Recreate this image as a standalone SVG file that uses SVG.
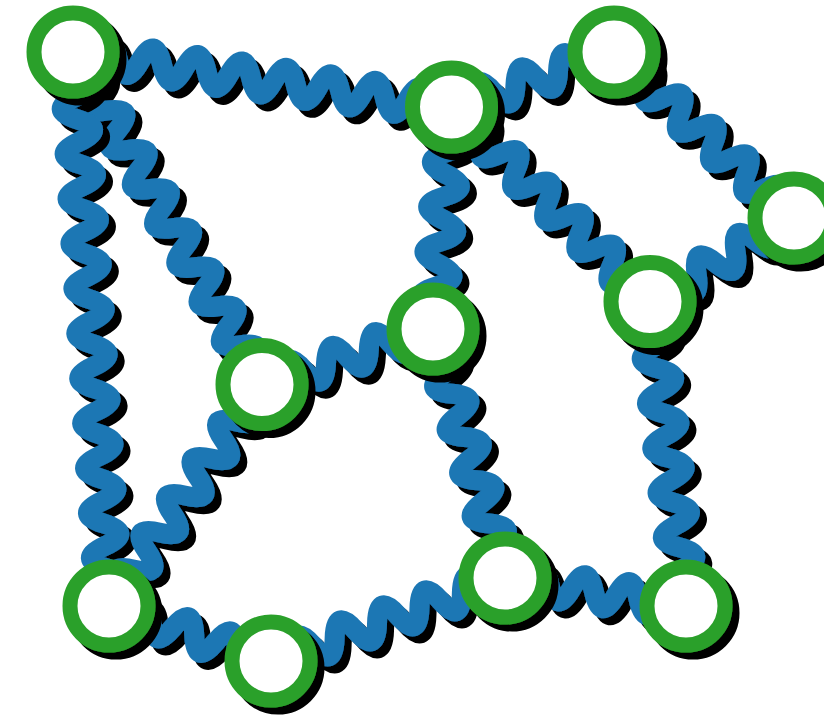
<svg xmlns="http://www.w3.org/2000/svg" width="824" height="718" viewBox="0 0 824 718">
<style>
.edge path{fill:none;stroke:#1f77b4;stroke-width:20;stroke-linejoin:round;stroke-linecap:round}
.node circle{fill:#fff;stroke:#2ca02c;stroke-width:15}
</style>
<defs>
<filter id="sh" filterUnits="userSpaceOnUse" x="-50" y="-50" width="924" height="818">
<feOffset in="SourceAlpha" dx="7" dy="7" result="o"/>
<feMerge><feMergeNode in="o"/><feMergeNode in="SourceGraphic"/></feMerge>
</filter>
</defs>
<rect width="824" height="718" fill="#fff"/>
<g id="edges">
<g id="e1-2" class="edge" filter="url(#sh)"><path transform="translate(73 52) rotate(8.27)" d="M0 0q11.25 30 22.5 0t22.5 0t22.5 0t22.5 0t22.5 0t22.5 0t22.5 0t22.5 0t22.5 0t22.5 0t22.5 0t22.5 0t22.5 0t22.5 0t22.5 0t22.5 0t22.5 0L382.5 0"/></g>
<g id="e1-7" class="edge" filter="url(#sh)"><path transform="translate(73 52) rotate(60.38)" d="M0 0q11.25 30 22.5 0t22.5 0t22.5 0t22.5 0t22.5 0t22.5 0t22.5 0t22.5 0t22.5 0t22.5 0t22.5 0t22.5 0t22.5 0t22.5 0t22.5 0t22.5 0t22.5 0L382.5 0"/></g>
<g id="e1-8" class="edge" filter="url(#sh)"><path transform="translate(73 52) rotate(86.28)" d="M0 0q11.25 30 22.5 0t22.5 0t22.5 0t22.5 0t22.5 0t22.5 0t22.5 0t22.5 0t22.5 0t22.5 0t22.5 0t22.5 0t22.5 0t22.5 0t22.5 0t22.5 0t22.5 0t22.5 0t22.5 0t22.5 0t22.5 0t22.5 0t22.5 0t22.5 0L555.2 0"/></g>
<g id="e2-3" class="edge" filter="url(#sh)"><path transform="translate(451.5 107) rotate(-18.7)" d="M0 0q11.25 30 22.5 0t22.5 0t22.5 0t22.5 0t22.5 0t22.5 0t22.5 0L171.6 0"/></g>
<g id="e2-6" class="edge" filter="url(#sh)"><path transform="translate(451.5 107) rotate(94.76)" d="M0 0q11.25 30 22.5 0t22.5 0t22.5 0t22.5 0t22.5 0t22.5 0t22.5 0t22.5 0t22.5 0L222.8 0"/></g>
<g id="e2-5" class="edge" filter="url(#sh)"><path transform="translate(451.5 107) rotate(44.42)" d="M0 0q11.25 30 22.5 0t22.5 0t22.5 0t22.5 0t22.5 0t22.5 0t22.5 0t22.5 0t22.5 0t22.5 0t22.5 0t22.5 0L277.9 0"/></g>
<g id="e3-4" class="edge" filter="url(#sh)"><path transform="translate(614 52) rotate(42.68)" d="M0 0q11.25 30 22.5 0t22.5 0t22.5 0t22.5 0t22.5 0t22.5 0t22.5 0t22.5 0t22.5 0t22.5 0L244.9 0"/></g>
<g id="e4-5" class="edge" filter="url(#sh)"><path transform="translate(794 218) rotate(149.89)" d="M0 0q11.25 30 22.5 0t22.5 0t22.5 0t22.5 0t22.5 0t22.5 0t22.5 0L166.5 0"/></g>
<g id="e5-11" class="edge" filter="url(#sh)"><path transform="translate(650 301.5) rotate(83.26)" d="M0 0q11.25 30 22.5 0t22.5 0t22.5 0t22.5 0t22.5 0t22.5 0t22.5 0t22.5 0t22.5 0t22.5 0t22.5 0t22.5 0t22.5 0L306.6 0"/></g>
<g id="e6-7" class="edge" filter="url(#sh)"><path transform="translate(433 329) rotate(162.02)" d="M0 0q11.25 30 22.5 0t22.5 0t22.5 0t22.5 0t22.5 0t22.5 0t22.5 0L179.8 0"/></g>
<g id="e6-10" class="edge" filter="url(#sh)"><path transform="translate(433 329) rotate(73.87)" d="M0 0q11.25 30 22.5 0t22.5 0t22.5 0t22.5 0t22.5 0t22.5 0t22.5 0t22.5 0t22.5 0t22.5 0t22.5 0L259.2 0"/></g>
<g id="e7-8" class="edge" filter="url(#sh)"><path transform="translate(262 384.5) rotate(124.63)" d="M0 0q11.25 30 22.5 0t22.5 0t22.5 0t22.5 0t22.5 0t22.5 0t22.5 0t22.5 0t22.5 0t22.5 0t22.5 0L269.2 0"/></g>
<g id="e8-9" class="edge" filter="url(#sh)"><path transform="translate(109 606) rotate(18.75)" d="M0 0q11.25 30 22.5 0t22.5 0t22.5 0t22.5 0t22.5 0t22.5 0t22.5 0L171.1 0"/></g>
<g id="e9-10" class="edge" filter="url(#sh)"><path transform="translate(271 661) rotate(-19.53)" d="M0 0q11.25 30 22.5 0t22.5 0t22.5 0t22.5 0t22.5 0t22.5 0t22.5 0t22.5 0t22.5 0t22.5 0t22.5 0L248.3 0"/></g>
<g id="e10-11" class="edge" filter="url(#sh)"><path transform="translate(505 578) rotate(8.79)" d="M0 0q11.25 30 22.5 0t22.5 0t22.5 0t22.5 0t22.5 0t22.5 0t22.5 0t22.5 0L183.2 0"/></g>
</g>
<g id="nodes">
<g id="n1" class="node" filter="url(#sh)"><circle cx="73" cy="52" r="39"/></g>
<g id="n2" class="node" filter="url(#sh)"><circle cx="451.5" cy="107" r="39"/></g>
<g id="n3" class="node" filter="url(#sh)"><circle cx="614" cy="52" r="39"/></g>
<g id="n4" class="node" filter="url(#sh)"><circle cx="794" cy="218" r="39"/></g>
<g id="n5" class="node" filter="url(#sh)"><circle cx="650" cy="301.5" r="39"/></g>
<g id="n6" class="node" filter="url(#sh)"><circle cx="433" cy="329" r="39"/></g>
<g id="n7" class="node" filter="url(#sh)"><circle cx="262" cy="384.5" r="39"/></g>
<g id="n8" class="node" filter="url(#sh)"><circle cx="109" cy="606" r="39"/></g>
<g id="n9" class="node" filter="url(#sh)"><circle cx="271" cy="661" r="39"/></g>
<g id="n10" class="node" filter="url(#sh)"><circle cx="505" cy="578" r="39"/></g>
<g id="n11" class="node" filter="url(#sh)"><circle cx="686" cy="606" r="39"/></g>
</g>
</svg>
